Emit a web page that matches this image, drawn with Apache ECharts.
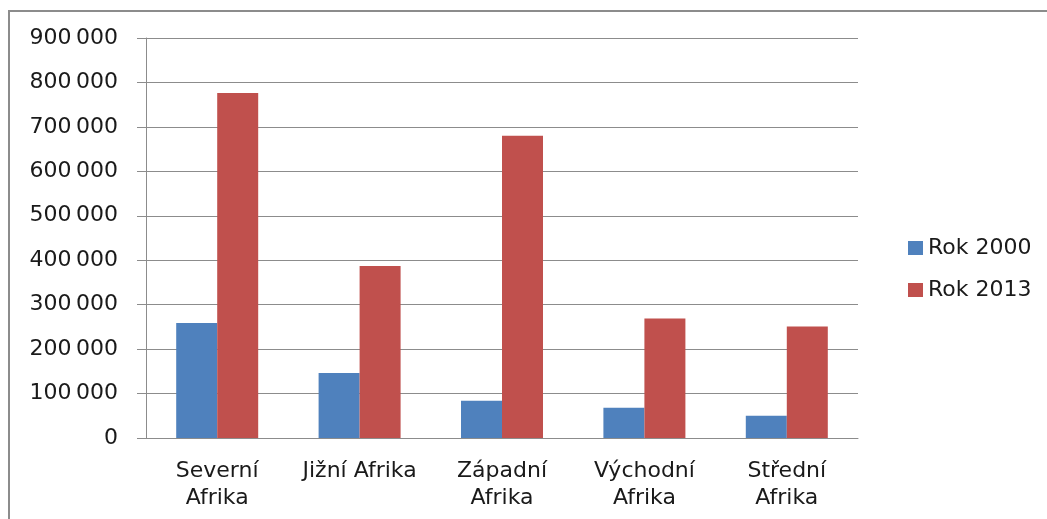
<!DOCTYPE html>
<html>
<head>
<meta charset="utf-8">
<script src="https://cdn.jsdelivr.net/npm/echarts@6/dist/echarts.min.js"></script>
<style>
  html, body { margin: 0; padding: 0; background: #fff; }
  #chart { width: 1047px; height: 519px; }
</style>
</head>
<body>
<div id="chart"></div>
<script>
// regions (tick labels, wrapped like the original)
const categories = ['Severní\nAfrika', 'Jižní Afrika', 'Západní\nAfrika', 'Východní\nAfrika', 'Střední\nAfrika'];
const seriesNames = ['Rok 2000', 'Rok 2013'];
const rok2000 = [259000, 146000, 84000, 68000, 50000];
const rok2013 = [776000, 387000, 680000, 269000, 251000];
const yTicks = { min: 0, max: 900000, step: 100000 };

const font = 'DejaVu Sans';
const grey = '#8c8c8c';
const ink = '#1a1a1a';

const chart = echarts.init(document.getElementById('chart'));

chart.setOption({
  animation: false,
  textStyle: { fontFamily: font },
  graphic: [{
    type: 'rect',
    shape: { x: 9, y: 11, width: 1100, height: 600 },
    style: { fill: 'none', stroke: grey, lineWidth: 2 }
  }],
  grid: { left: 146, right: 189, top: 38, bottom: 81 },
  legend: {
    orient: 'vertical',
    left: 903,
    top: 232,
    itemWidth: 15,
    itemHeight: 14,
    itemGap: 20,
    icon: 'rect',
    textStyle: { fontFamily: font, fontSize: 22, color: ink },
    data: seriesNames
  },
  xAxis: {
    type: 'category',
    data: categories,
    axisLine: { lineStyle: { color: grey, width: 1 } },
    axisTick: { length: 7, lineStyle: { color: grey } },
    axisLabel: { fontSize: 22, color: ink, margin: 20, lineHeight: 27, interval: 0 }
  },
  yAxis: {
    type: 'value',
    min: yTicks.min,
    max: yTicks.max,
    interval: yTicks.step,
    axisLine: { show: true, lineStyle: { color: grey, width: 1 } },
    axisTick: { show: true, length: 9, lineStyle: { color: grey } },
    splitLine: { lineStyle: { color: grey, width: 1 } },
    axisLabel: {
      fontSize: 22,
      color: ink,
      margin: 28,
      formatter: v => String(v).replace(/\B(?=(\d{3})+(?!\d))/g, '\u202f')
    }
  },
  series: [
    {
      name: seriesNames[0],
      type: 'bar',
      data: rok2000,
      barWidth: 41,
      barGap: '0%',
      itemStyle: { color: '#4f81bd' }
    },
    {
      name: seriesNames[1],
      type: 'bar',
      data: rok2013,
      barWidth: 41,
      barGap: '0%',
      itemStyle: { color: '#c0504d' }
    }
  ]
});
</script>
</body>
</html>
